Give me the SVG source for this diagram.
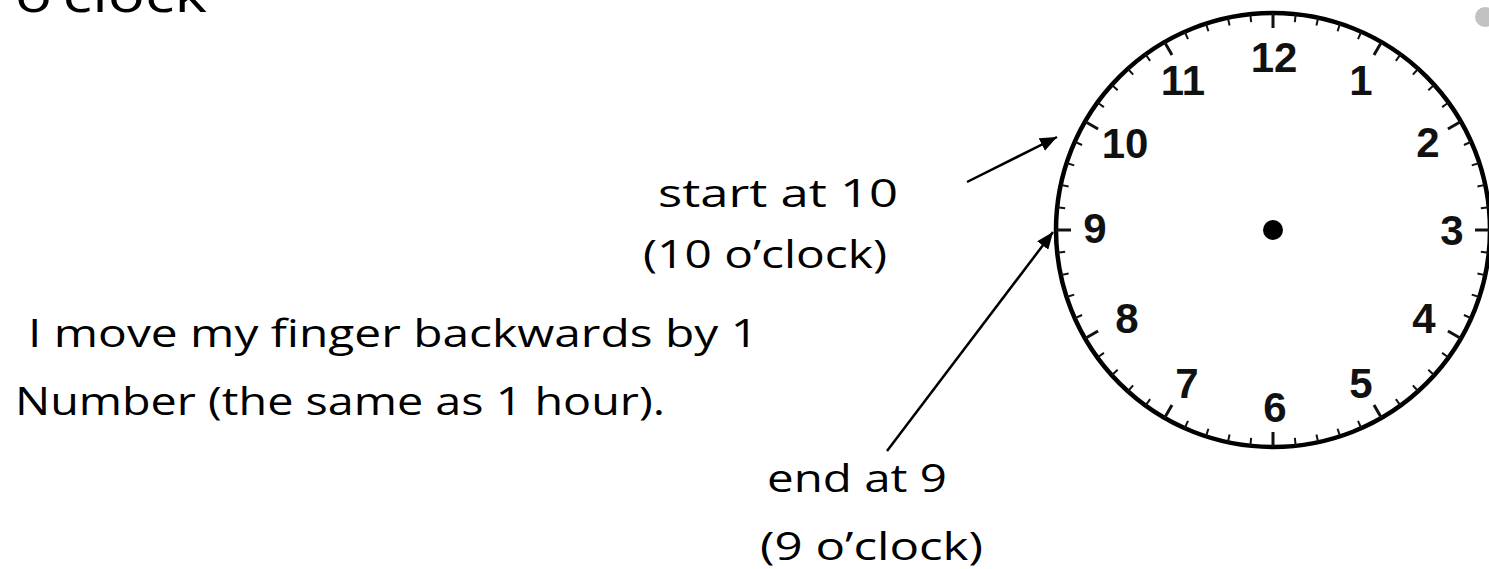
<svg xmlns="http://www.w3.org/2000/svg" xmlns:xlink="http://www.w3.org/1999/xlink" width="1489" height="569" viewBox="0 0 1489 569">
<style>
.t{font-family:"Open Sans","Noto Sans",sans-serif;font-size:38px;fill:#000}
.n{font-family:"Liberation Sans",Arial,sans-serif;font-weight:bold;font-size:42px;fill:#111;text-anchor:middle}
.mi{stroke:#111;stroke-width:2}
.ma{stroke:#111;stroke-width:3}
.c{stroke:#000;stroke-width:2.5;fill:none}
</style>
<defs>
<marker id="ah" markerUnits="userSpaceOnUse" markerWidth="18" markerHeight="14" refX="17" refY="7" orient="auto">
<path d="M0,0 L17,7 L0,14 z" fill="#000"/>
</marker>
<line id="mn" class="mi" x1="1273" y1="13" x2="1273" y2="21"/>
<line id="mj" class="ma" x1="1273" y1="13" x2="1273" y2="28"/>
</defs>
<rect width="1489" height="569" fill="#fff"/>
<text class="t" x="15" y="12" font-size="52" textLength="192" lengthAdjust="spacingAndGlyphs" style="font-size:52px">o’clock</text>
<circle cx="1485" cy="17" r="10" fill="#c2c2c2"/>
<g id="clock">
<circle cx="1273" cy="230" r="217" fill="#fff" stroke="#000" stroke-width="4.5"/>
<g id="ticks">
<use xlink:href="#mj" transform="rotate(0 1273 230)"/>
<use xlink:href="#mn" transform="rotate(6 1273 230)"/>
<use xlink:href="#mn" transform="rotate(12 1273 230)"/>
<use xlink:href="#mn" transform="rotate(18 1273 230)"/>
<use xlink:href="#mn" transform="rotate(24 1273 230)"/>
<use xlink:href="#mj" transform="rotate(30 1273 230)"/>
<use xlink:href="#mn" transform="rotate(36 1273 230)"/>
<use xlink:href="#mn" transform="rotate(42 1273 230)"/>
<use xlink:href="#mn" transform="rotate(48 1273 230)"/>
<use xlink:href="#mn" transform="rotate(54 1273 230)"/>
<use xlink:href="#mj" transform="rotate(60 1273 230)"/>
<use xlink:href="#mn" transform="rotate(66 1273 230)"/>
<use xlink:href="#mn" transform="rotate(72 1273 230)"/>
<use xlink:href="#mn" transform="rotate(78 1273 230)"/>
<use xlink:href="#mn" transform="rotate(84 1273 230)"/>
<use xlink:href="#mj" transform="rotate(90 1273 230)"/>
<use xlink:href="#mn" transform="rotate(96 1273 230)"/>
<use xlink:href="#mn" transform="rotate(102 1273 230)"/>
<use xlink:href="#mn" transform="rotate(108 1273 230)"/>
<use xlink:href="#mn" transform="rotate(114 1273 230)"/>
<use xlink:href="#mj" transform="rotate(120 1273 230)"/>
<use xlink:href="#mn" transform="rotate(126 1273 230)"/>
<use xlink:href="#mn" transform="rotate(132 1273 230)"/>
<use xlink:href="#mn" transform="rotate(138 1273 230)"/>
<use xlink:href="#mn" transform="rotate(144 1273 230)"/>
<use xlink:href="#mj" transform="rotate(150 1273 230)"/>
<use xlink:href="#mn" transform="rotate(156 1273 230)"/>
<use xlink:href="#mn" transform="rotate(162 1273 230)"/>
<use xlink:href="#mn" transform="rotate(168 1273 230)"/>
<use xlink:href="#mn" transform="rotate(174 1273 230)"/>
<use xlink:href="#mj" transform="rotate(180 1273 230)"/>
<use xlink:href="#mn" transform="rotate(186 1273 230)"/>
<use xlink:href="#mn" transform="rotate(192 1273 230)"/>
<use xlink:href="#mn" transform="rotate(198 1273 230)"/>
<use xlink:href="#mn" transform="rotate(204 1273 230)"/>
<use xlink:href="#mj" transform="rotate(210 1273 230)"/>
<use xlink:href="#mn" transform="rotate(216 1273 230)"/>
<use xlink:href="#mn" transform="rotate(222 1273 230)"/>
<use xlink:href="#mn" transform="rotate(228 1273 230)"/>
<use xlink:href="#mn" transform="rotate(234 1273 230)"/>
<use xlink:href="#mj" transform="rotate(240 1273 230)"/>
<use xlink:href="#mn" transform="rotate(246 1273 230)"/>
<use xlink:href="#mn" transform="rotate(252 1273 230)"/>
<use xlink:href="#mn" transform="rotate(258 1273 230)"/>
<use xlink:href="#mn" transform="rotate(264 1273 230)"/>
<use xlink:href="#mj" transform="rotate(270 1273 230)"/>
<use xlink:href="#mn" transform="rotate(276 1273 230)"/>
<use xlink:href="#mn" transform="rotate(282 1273 230)"/>
<use xlink:href="#mn" transform="rotate(288 1273 230)"/>
<use xlink:href="#mn" transform="rotate(294 1273 230)"/>
<use xlink:href="#mj" transform="rotate(300 1273 230)"/>
<use xlink:href="#mn" transform="rotate(306 1273 230)"/>
<use xlink:href="#mn" transform="rotate(312 1273 230)"/>
<use xlink:href="#mn" transform="rotate(318 1273 230)"/>
<use xlink:href="#mn" transform="rotate(324 1273 230)"/>
<use xlink:href="#mj" transform="rotate(330 1273 230)"/>
<use xlink:href="#mn" transform="rotate(336 1273 230)"/>
<use xlink:href="#mn" transform="rotate(342 1273 230)"/>
<use xlink:href="#mn" transform="rotate(348 1273 230)"/>
<use xlink:href="#mn" transform="rotate(354 1273 230)"/>
</g>
<g id="numbers">
<text class="n" x="1274" y="72">12</text>
<text class="n" x="1183" y="95">11</text>
<text class="n" x="1361" y="95">1</text>
<text class="n" x="1125" y="158">10</text>
<text class="n" x="1428" y="157">2</text>
<text class="n" x="1095" y="243">9</text>
<text class="n" x="1452" y="245">3</text>
<text class="n" x="1127" y="333">8</text>
<text class="n" x="1424" y="333">4</text>
<text class="n" x="1187" y="398">7</text>
<text class="n" x="1361" y="398">5</text>
<text class="n" x="1275" y="422">6</text>
</g>
<circle cx="1273" cy="230" r="10" fill="#000"/>
</g>
<g id="labels">
<text class="t" x="658" y="207" textLength="240" lengthAdjust="spacingAndGlyphs">start at 10</text>
<text class="t" x="643" y="268" textLength="244" lengthAdjust="spacingAndGlyphs">(10 o’clock)</text>
<text class="t" x="28" y="347" textLength="730" lengthAdjust="spacingAndGlyphs">I move my finger backwards by 1</text>
<text class="t" x="15" y="415" textLength="650" lengthAdjust="spacingAndGlyphs">Number (the same as 1 hour).</text>
<text class="t" x="767" y="492" textLength="180" lengthAdjust="spacingAndGlyphs">end at 9</text>
<text class="t" x="760" y="560" textLength="223" lengthAdjust="spacingAndGlyphs">(9 o’clock)</text>
</g>
<g id="connectors">
<line class="c" x1="967" y1="182" x2="1057" y2="137" marker-end="url(#ah)"/>
<line class="c" x1="887" y1="451" x2="1053" y2="232" marker-end="url(#ah)"/>
</g>
</svg>
